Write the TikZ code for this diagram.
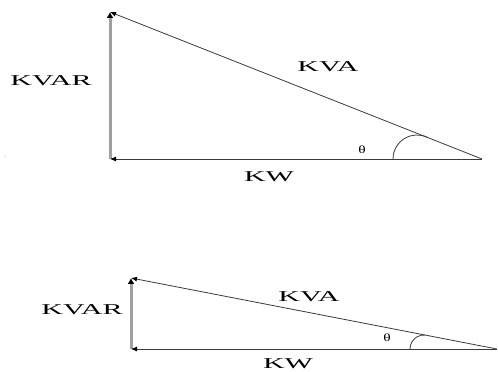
\documentclass[tikz,border=0pt]{standalone}
\usepackage{fontspec}
\setmainfont{Liberation Serif}
\usepackage{tikz}
\usetikzlibrary{arrows.meta}
\definecolor{ink}{HTML}{3A3A3A}
\definecolor{bar}{HTML}{A0A0A0}

\begin{document}
\begin{tikzpicture}[
  x=1pt, y=1pt,
  lab/.style={font=\fontsize{15}{15}\selectfont, inner sep=0pt, xscale=2, transform shape},
  ang/.style={font=\fontsize{11}{11}\selectfont, inner sep=0pt, xscale=1.4, transform shape},
  side/.style={-{Latex[length=6pt,width=5pt,black]}, draw=ink, line width=0.8pt},
  up/.style={-{Latex[length=6pt,width=7pt,black]}, draw=bar, line width=3pt}
]
\useasboundingbox (0,0) rectangle (498,372);
% upper triangle
\coordinate (o1) at (110,213);
\coordinate (p1) at (110,360);
\coordinate (r1) at (482,213);
\draw[up] (o1) -- (p1);
\draw[side] (r1) -- (o1);
\draw[side] (r1) -- (p1);
\draw[ink, line width=0.8pt] (393,213) arc[start angle=180, end angle=65.6, radius=24];
\node[lab] (kvar1) at (51,291) {KVAR};
\node[lab] (kva1) at (328,305) {KVA};
\node[lab] (kw1) at (269,195) {KW};
\node[ang] (th1) at (362,222) {θ};
\node[font=\tiny, inner sep=0pt] (speck) at (5,215) {.};
% lower triangle
\coordinate (o2) at (131,23);
\coordinate (p2) at (131,94);
\coordinate (r2) at (497,23);
\draw[up] (o2) -- (p2);
\draw[side] (r2) -- (o2);
\draw[side] (r2) -- (p2);
\draw[ink, line width=0.8pt] (410,23) arc[start angle=180, end angle=86, radius=14];
\node[lab] (kvar2) at (82,62) {KVAR};
\node[lab] (kva2) at (309,75) {KVA};
\node[lab] (kw2) at (288,8) {KW};
\node[ang] (th2) at (387,34) {θ};
\end{tikzpicture}
\end{document}
